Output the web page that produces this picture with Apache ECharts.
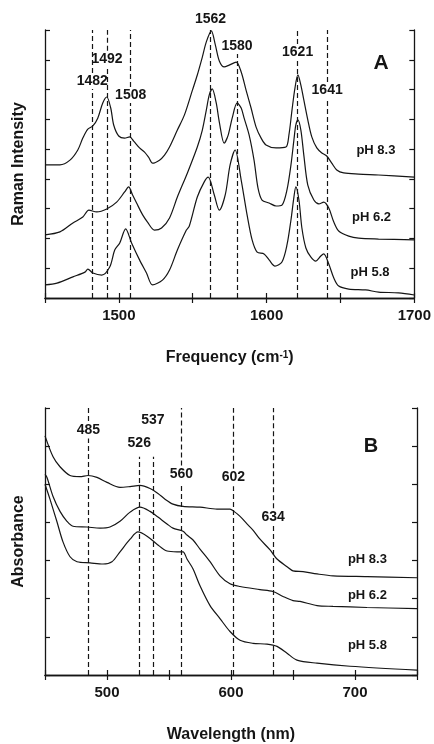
<!DOCTYPE html>
<html>
<head>
<meta charset="utf-8">
<script src="https://cdn.jsdelivr.net/npm/echarts@6/dist/echarts.min.js"></script>
<style>
  html, body { margin: 0; padding: 0; background: #fff; }
  #chart { width: 434px; height: 744px; }
</style>
</head>
<body>
<div id="chart"></div>
<script>
// ---- data ----
// panel A: Raman spectra, [frequency cm-1, intensity (arb., stacked)]
var ramanPH83 = [[1450,4.47],[1460.1,4.47],[1466.9,4.63],[1472.2,4.97],[1475.6,5.37],[1479,5.67],[1482.4,5.78],[1485.7,6.04],[1489.1,6.55],[1491.8,6.75],[1494.5,6.38],[1496.5,5.81],[1499.9,5.44],[1503.9,5.37],[1507.3,5.41],[1510,5.27],[1514,5.04],[1517.4,4.90],[1520.1,4.73],[1522.8,4.53],[1527.5,4.63],[1530.9,4.80],[1534.3,5.07],[1539.6,5.64],[1544.4,6.15],[1549.8,6.98],[1553.1,7.49],[1556.5,8.09],[1559.2,8.60],[1562.6,8.97],[1565.3,8.50],[1568,7.96],[1571.3,7.76],[1574.7,7.82],[1579.4,7.92],[1582.8,7.59],[1586.1,6.98],[1589.5,6.38],[1592.9,5.74],[1596.3,5.37],[1599.6,5.14],[1606.4,5.04],[1613.1,5.07],[1615.1,5.47],[1617.2,6.31],[1619.2,7.05],[1621.2,7.49],[1623.2,7.15],[1625.2,6.65],[1627.9,5.98],[1630.6,5.41],[1634,5.04],[1637.4,4.87],[1640.7,4.77],[1644.1,4.53],[1647.5,4.30],[1652.2,4.20],[1662.3,4.16],[1675.8,4.13],[1700,4.06]];
var ramanPH62 = [[1450,2.12],[1460.1,2.22],[1468.9,2.52],[1475.6,2.72],[1479.7,2.95],[1485,2.89],[1491.8,2.99],[1498.5,3.22],[1503.9,3.56],[1506.6,3.73],[1509.3,3.46],[1512,3.19],[1516.1,2.79],[1519.4,2.55],[1524.1,2.28],[1528.9,2.35],[1534.3,2.69],[1539.6,3.39],[1546.4,4.20],[1553.1,5.07],[1556.5,5.64],[1559.2,6.31],[1561.2,6.82],[1563.2,7.02],[1565.9,6.55],[1568,5.91],[1571.3,5.20],[1574,5.47],[1576.7,6.04],[1580.1,6.55],[1582.8,6.38],[1584.8,6.04],[1588.2,5.47],[1591.5,4.63],[1594.2,3.69],[1596.9,3.29],[1601.7,3.19],[1606.4,3.09],[1610.4,3.12],[1613.8,3.63],[1616.5,4.47],[1618.5,5.31],[1619.8,5.81],[1621.2,5.98],[1623.2,5.64],[1625.2,4.80],[1627.9,3.79],[1632,3.29],[1635.4,3.16],[1638.7,3.22],[1642.1,3.02],[1645.5,2.55],[1648.8,2.25],[1655.6,2.08],[1662.3,2.01],[1675.8,1.98],[1700,1.95]];
var ramanPH58 = [[1450,0.44],[1458.1,0.50],[1468.9,0.71],[1477,0.87],[1479,0.97],[1482.4,0.84],[1488.4,0.77],[1493.8,1.04],[1497.2,1.61],[1500.6,1.85],[1504.6,2.32],[1508.6,1.85],[1514,1.28],[1518.7,0.84],[1522.8,0.44],[1529.5,0.60],[1534.3,0.94],[1539.6,1.61],[1545.7,2.28],[1547.7,2.42],[1553.1,3.39],[1557.8,3.90],[1560.5,4.06],[1564.6,3.46],[1568,2.95],[1572,3.46],[1575.3,4.47],[1578.7,4.97],[1582.8,3.96],[1586.8,2.79],[1590.2,1.95],[1593.6,1.54],[1598.3,1.48],[1601.7,1.28],[1605.7,1.07],[1610.4,1.21],[1613.8,1.78],[1616.5,2.62],[1618.5,3.39],[1619.8,3.73],[1621.9,3.29],[1623.9,2.35],[1626.6,1.68],[1629.9,1.38],[1633.3,1.24],[1636.7,1.41],[1638.7,1.48],[1642.1,1.14],[1645.5,0.67],[1648.8,0.40],[1655.6,0.30],[1667,0.27],[1675.8,0.20],[1689.3,0.17],[1700,0.10]];

// panel B: absorption spectra, [wavelength nm, absorbance (arb., stacked)]
var absPH83 = [[450,6.27],[456.5,5.72],[462.1,5.46],[470.2,5.23],[478.2,5.20],[484.7,5.23],[491.9,5.18],[500,5.05],[510.5,4.92],[518.6,4.94],[526.6,4.97],[534.7,4.89],[541.1,4.76],[546.8,4.61],[553.2,4.48],[561.3,4.42],[575,4.40],[588.7,4.35],[599.2,4.35],[602.4,4.29],[607.3,4.16],[612.9,3.96],[617.7,3.80],[623.4,3.56],[631.5,3.28],[637.1,3.04],[645.2,2.84],[650,2.73],[658.1,2.71],[669.4,2.65],[682.3,2.60],[709.7,2.58],[750,2.55]];
var absPH62 = [[450,5.26],[451.6,5.18],[456.5,4.68],[462.1,4.29],[467.7,4.03],[472.6,3.90],[483.9,3.88],[494.4,3.85],[502.4,3.88],[510.5,4.03],[518.6,4.27],[526.6,4.40],[534.7,4.29],[541.1,4.14],[548.4,3.96],[553.2,3.85],[561.3,3.77],[564.5,3.67],[569.4,3.54],[575,3.30],[583.1,2.97],[591.1,2.60],[599.2,2.39],[607.3,2.32],[623.4,2.24],[633.9,2.19],[641.9,2.06],[650,1.95],[655.7,1.93],[669.4,1.82],[682.3,1.80],[709.7,1.77],[750,1.74]];
var absPH58 = [[450,5.00],[454,4.61],[459.7,4.01],[464.5,3.49],[470.2,3.10],[475.8,2.97],[486.3,2.94],[496.8,2.91],[504,2.97],[510.5,3.23],[518.6,3.56],[525,3.75],[532.3,3.64],[540.3,3.43],[548.4,3.25],[556.5,3.23],[561.3,3.23],[564.5,3.04],[569.4,2.78],[575,2.34],[583.1,1.82],[591.1,1.48],[599.2,1.14],[607.3,0.91],[617.7,0.83],[629,0.81],[637.1,0.75],[645.2,0.57],[653.2,0.39],[669.4,0.31],[696,0.23],[750,0.13]];

var ramanPeaks = [1482, 1492, 1508, 1562, 1580, 1621, 1641];
var absPeaks = [485, 526, 537, 560, 602, 634];
var phNames = ['pH 8.3', 'pH 6.2', 'pH 5.8'];

// ---- layout of the annotations (axis units) ----
// label height of each peak number; null = above the frame
var ramanLabelY = [7.29, 8.03, 6.82, null, 8.46, 8.26, 6.98];
var ramanLineTop = [true, true, true, true, false, true, true];
var absLabelY = [6.43, 6.09, 6.69, 5.26, 5.18, 4.14];
var absLineStart = [null, 5.72, 5.72, null, null, null]; // dashed line begins below the label
var ramanPhPos = [[1674, 4.94], [1671, 2.72], [1670, 0.87]];
var absPhPos = [[710, 3.04], [710, 2.08], [710, 0.78]];

var FONT = 'Liberation Sans';
var INK = '#151515';

function dashes(peaks, labelY, topFlags, starts, yMax, gap) {
  var segs = [];
  peaks.forEach(function (p, i) {
    var ly = labelY[i];
    if (ly === null) {
      segs.push([{coord: [p, 0]}, {coord: [p, yMax], label: {show: true, position: 'end', formatter: String(p), distance: 4}}]);
      return;
    }
    var lo = (starts && starts[i] !== null) ? starts[i] : ly - gap;
    segs.push([{coord: [p, 0]}, {coord: [p, lo]}]);
    if (topFlags[i] && !(starts && starts[i] !== null)) {
      segs.push([{coord: [p, ly + gap]}, {coord: [p, yMax]}]);
    }
  });
  return segs;
}

function peakLabels(peaks, labelY) {
  var pts = [];
  peaks.forEach(function (p, i) {
    if (labelY[i] !== null) pts.push({name: String(p), coord: [p, labelY[i]]});
  });
  return pts;
}

function phLabels(pos) {
  return phNames.map(function (n, i) {
    return {name: n, coord: pos[i], label: {fontSize: 13}};
  });
}

function curve(data, gi, extra) {
  var s = {
    type: 'line', data: data, xAxisIndex: gi * 2, yAxisIndex: gi * 2,
    showSymbol: false, smooth: 0.3, silent: true,
    lineStyle: {color: INK, width: 1.2}
  };
  if (extra) {
    s.markLine = {
      silent: true, symbol: ['none', 'none'], animation: false,
      lineStyle: {type: [5, 3], color: INK, width: 1.2},
      label: {show: false, color: INK, fontWeight: 'bold', fontSize: 14, fontFamily: FONT},
      emphasis: {disabled: true},
      data: extra.lines
    };
    s.markPoint = {
      silent: true, symbol: 'circle', symbolSize: 1, animation: false,
      itemStyle: {color: 'rgba(0,0,0,0)'},
      label: {show: true, position: 'inside', formatter: '{b}', color: INK, fontWeight: 'bold', fontSize: 14, fontFamily: FONT},
      data: extra.points
    };
  }
  return s;
}

function xAx(gi, min, max, top, name, rich) {
  return {
    type: 'value', gridIndex: gi, min: min, max: max, interval: 50,
    position: top ? 'top' : 'bottom',
    axisLine: {show: true, lineStyle: {color: INK, width: 1.3}},
    axisTick: {show: true, inside: true, length: 5, lineStyle: {color: INK, width: 1.2}},
    axisLabel: {
      show: !top, margin: 10, color: INK, fontWeight: 'bold', fontSize: 15, fontFamily: FONT,
      formatter: function (v) { return v % 100 === 0 ? String(v) : ''; }
    },
    splitLine: {show: false},
    name: top ? '' : name, nameLocation: 'middle', nameGap: 52,
    nameTextStyle: {color: INK, fontWeight: 'bold', fontSize: 16, fontFamily: FONT, rich: rich}
  };
}

function yAx(gi, max, right, name) {
  return {
    type: 'value', gridIndex: gi, min: 0, max: max, interval: 1,
    position: right ? 'right' : 'left',
    axisLine: {show: true, lineStyle: {color: INK, width: 1.3}},
    axisTick: {show: true, inside: true, length: 5, lineStyle: {color: INK, width: 1.2}},
    axisLabel: {show: false},
    splitLine: {show: false},
    name: right ? '' : name, nameLocation: 'middle', nameGap: 18, nameRotate: 90,
    nameTextStyle: {color: INK, fontWeight: 'bold', fontSize: 16, fontFamily: FONT}
  };
}

var supRich = {
  s: {fontSize: 10, fontWeight: 'bold', fontFamily: FONT, color: INK, verticalAlign: 'top', lineHeight: 16}
};

var option = {
  animation: false,
  backgroundColor: '#fff',
  grid: [
    {left: 45, right: 18, top: 30, height: 268},
    {left: 45, right: 17, top: 408, height: 269}
  ],
  xAxis: [
    xAx(0, 1450, 1700, false, 'Frequency (cm{s|-1})', supRich),
    xAx(0, 1450, 1700, true),
    xAx(1, 450, 750, false, 'Wavelength (nm)'),
    xAx(1, 450, 750, true)
  ],
  yAxis: [
    yAx(0, 9, false, 'Raman Intensity'),
    yAx(0, 9, true),
    yAx(1, 7, false, 'Absorbance'),
    yAx(1, 7, true)
  ],
  graphic: [
    {type: 'text', x: 381, y: 63, style: {text: 'A', align: 'center', verticalAlign: 'middle', fill: INK, font: 'bold 21px "Liberation Sans"'}},
    {type: 'text', x: 371, y: 446, style: {text: 'B', align: 'center', verticalAlign: 'middle', fill: INK, font: 'bold 20px "Liberation Sans"'}}
  ],
  series: [
    curve(ramanPH83, 0, {
      lines: dashes(ramanPeaks, ramanLabelY, ramanLineTop, null, 9, 0.27),
      points: peakLabels(ramanPeaks, ramanLabelY).concat(phLabels(ramanPhPos))
    }),
    curve(ramanPH62, 0),
    curve(ramanPH58, 0),
    curve(absPH83, 1, {
      lines: dashes(absPeaks, absLabelY, [true, false, false, true, true, true], absLineStart, 7, 0.23),
      points: peakLabels(absPeaks, absLabelY).concat(phLabels(absPhPos))
    }),
    curve(absPH62, 1),
    curve(absPH58, 1)
  ]
};

var chart = echarts.init(document.getElementById('chart'));
chart.setOption(option);
window.addEventListener('resize', function () { chart.resize(); });
</script>
</body>
</html>
